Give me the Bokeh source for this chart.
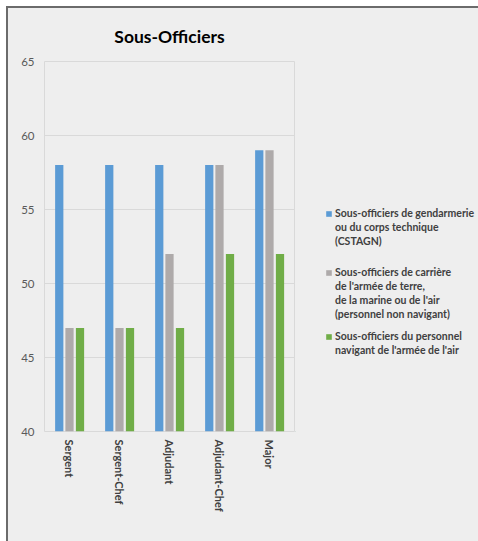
from bokeh.plotting import figure
from bokeh.layouts import row
from bokeh.models import ColumnDataSource, Legend, LegendItem, FactorRange, Range1d, FixedTicker
from bokeh.transform import dodge
from bokeh.embed import file_html
from bokeh.resources import INLINE

categories = ["Sergent", "Sergent-Chef", "Adjudant", "Adjudant-Chef", "Major"]
gendarmerie = [58, 58, 58, 58, 59]
carriere = [47, 47, 52, 58, 59]
navigant = [47, 47, 47, 52, 52]
series_labels = [
    ["Sous-officiers de gendarmerie", "ou du corps technique", "(CSTAGN)"],
    ["Sous-officiers de carrière", "de l'armée de terre,", "de la marine ou de l'air",
     "(personnel non navigant)"],
    ["Sous-officiers du personnel", "navigant de l'armée de l'air"],
]
colors = ["#5b9bd5", "#aeaaaa", "#70ad47"]
y_ticks = [40, 45, 50, 55, 60, 65]

FONT = "Lato"
BG = "#eeeeee"

src = ColumnDataSource(dict(cat=categories, g=gendarmerie, c=carriere, n=navigant))

p = figure(x_range=FactorRange(*categories, range_padding=0), y_range=Range1d(40, 65),
           width=287, height=533, output_backend="svg", toolbar_location=None,
           title="Sous-Officiers")
p.background_fill_color = None
p.border_fill_color = None
p.outline_line_color = "#d9d9d9"
p.min_border_left = 36
p.min_border_top = 52
p.min_border_bottom = 110
p.min_border_right = 1

p.title.text_font = FONT
p.title.text_font_size = "17.5px"
p.title.text_font_style = "bold"
p.title.text_color = "#000000"
p.title.align = "center"
p.title.standoff = 30
p.title.offset = -3

w = 0.165
p.vbar(x=dodge("cat", -0.205, range=p.x_range), top="g", bottom=40, width=w, source=src,
       fill_color=colors[0], line_color=None)
p.vbar(x=dodge("cat", 0.0, range=p.x_range), top="c", bottom=40, width=w, source=src,
       fill_color=colors[1], line_color=None)
p.vbar(x=dodge("cat", 0.21, range=p.x_range), top="n", bottom=40, width=w, source=src,
       fill_color=colors[2], line_color=None)

p.yaxis.ticker = FixedTicker(ticks=y_ticks)
p.yaxis.axis_line_color = None
p.yaxis.major_tick_line_color = None
p.yaxis.minor_tick_line_color = None
p.yaxis.major_tick_out = 0
p.yaxis.minor_tick_out = 0
p.yaxis.major_label_text_font = FONT
p.yaxis.major_label_text_font_size = "11.5px"
p.yaxis.major_label_text_color = "#595959"
p.yaxis.major_label_standoff = 10

p.xaxis.axis_line_color = None
p.xaxis.major_tick_line_color = None
p.xaxis.minor_tick_line_color = None
p.xaxis.major_tick_out = 0
p.xaxis.minor_tick_out = 0
p.xaxis.major_label_orientation = "vertical"
p.xaxis.major_label_text_font = FONT
p.xaxis.major_label_text_font_size = "11px"
p.xaxis.major_label_text_font_style = "bold"
p.xaxis.major_label_text_color = "#404040"
p.xaxis.major_label_standoff = 8

p.xgrid.grid_line_color = None
p.ygrid.grid_line_color = "#d9d9d9"

# legend panel (same frame geometry as the chart)
q = figure(width=183, height=533, output_backend="svg", toolbar_location=None,
           x_range=Range1d(0, 1), y_range=Range1d(0, 1))
q.background_fill_color = None
q.border_fill_color = None
q.outline_line_color = None
q.axis.visible = False
q.grid.visible = False
q.min_border_left = 0
q.min_border_right = 0
q.min_border_top = 52
q.min_border_bottom = 110

# off-range placeholders, only used to give legend swatches their colour
swatches = [q.vbar(x=[-10], top=[-10], width=1, fill_color=c, line_color=None) for c in colors]
blank = q.vbar(x=[-10], top=[-10], width=1, fill_alpha=0, line_color=None)

legend_bottoms = [183, 110, 74]
for lines, sw, vy in zip(series_labels, swatches, legend_bottoms):
    items = [LegendItem(label=lines[0], renderers=[sw])]
    items += [LegendItem(label=t, renderers=[blank]) for t in lines[1:]]
    lg = Legend(items=items, location=(30, vy))
    lg.background_fill_alpha = 0
    lg.border_line_alpha = 0
    lg.label_text_font = FONT
    lg.label_text_font_size = "10.5px"
    lg.label_text_font_style = "bold"
    lg.label_text_color = "#404040"
    lg.label_height = 14
    lg.label_text_line_height = 1.0
    lg.glyph_width = 7
    lg.glyph_height = 7
    lg.label_standoff = 3
    lg.spacing = 0
    lg.padding = 0
    lg.margin = 0
    q.add_layout(lg, "center")

layout = row(p, q, spacing=0)
layout.styles = {"margin-left": "6px", "margin-top": "6px", "background-color": BG,
                 "border-left": "2px solid #6b6b6b", "border-top": "2px solid #6b6b6b"}

open("out.html", "w").write(file_html(layout, INLINE))
